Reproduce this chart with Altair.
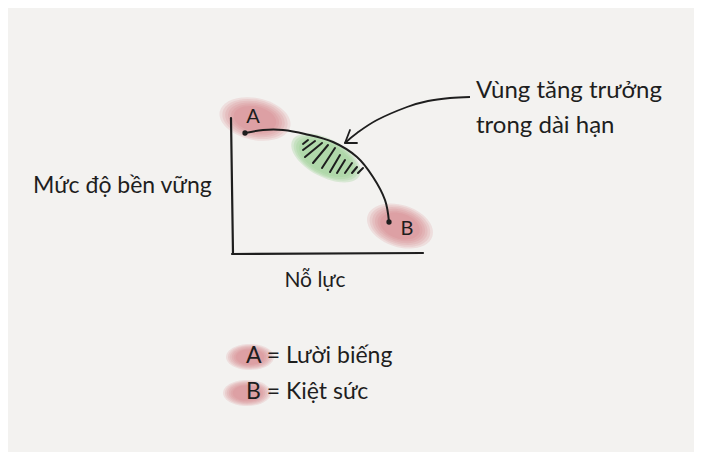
import altair as alt
import pandas as pd

# Diagram units: x = effort (Nỗ lực), y = sustainability (Mức độ bền vững); origin at axis corner
curve_x = [13, 31, 51, 73, 101, 125, 141, 153, 157]
curve_y = [121, 124, 124, 120, 112, 97, 77, 54, 32]

arrow_x = [238, 218, 196, 175, 145, 125, 113]
arrow_y = [157, 156, 153, 147, 134, 121, 111]
head_x1 = [113, 113]
head_y1 = [111, 111]
head_x2 = [118, 125]
head_y2 = [124, 111]

axis_x1 = [-1, 0]
axis_y1 = [136, 0]
axis_x2 = [1, 191]
axis_y2 = [0, 1]

hatch_x1 = [71, 71, 73, 81, 90, 98, 105, 113, 120, 126]
hatch_y1 = [110, 104, 97, 91, 86, 82, 81, 81, 81, 81]
hatch_x2 = [76, 83, 90, 96, 103, 108, 113, 120, 125, 131]
hatch_y2 = [114, 113, 111, 109, 106, 99, 94, 91, 87, 86]

end_names = ["A", "B"]
end_x = [13, 157]
end_y = [121, 32]
label_x = [21, 175]
label_y = [131, 19]

blob_names = ["A", "B", "growth", "legendA", "legendB"]
blob_x = [23, 168, 94, 18, 15]
blob_y = [135, 28, 96, -103, -139]

title_lines = ["Vùng tăng trưởng", "trong dài hạn"]
title_x = [244, 244]
title_y = [156, 121]

ylabel_text = ["Mức độ bền vững"]
ylabel_x = [-199]
ylabel_y = [61]

xlabel_text = ["Nỗ lực"]
xlabel_x = [83]
xlabel_y = [-33]

legend_text = ["A = Lười biếng", "B = Kiệt sức"]
legend_x = [14, 14]
legend_y = [-109, -145]

BG = "#f3f2f0"
INK = "#1e1e1e"
PINK = "#d6747a"
GREEN = "#9bd094"
FONT = "Lato"

xs = alt.Scale(domain=[-224, 462], nice=False, zero=False)
ys = alt.Scale(domain=[-198, 246], nice=False, zero=False)


def X(f):
    return alt.X(f, type="quantitative", scale=xs, axis=None)


def Y(f):
    return alt.Y(f, type="quantitative", scale=ys, axis=None)


def blob(idx, rx, ry, angle, color, steps):
    k = ry / rx
    path = f"M-1,0A1,{k:.3f} 0 1,1 1,0A1,{k:.3f} 0 1,1 -1,0Z"
    df = pd.DataFrame({"x": [blob_x[idx]], "y": [blob_y[idx]], "name": [blob_names[idx]]})
    layers = []
    for f, op in steps:
        layers.append(
            alt.Chart(df).mark_point(
                shape=path, filled=True, fill=color, opacity=op, strokeOpacity=0,
                size=(2 * rx * f) ** 2, angle=angle, strokeWidth=0,
            ).encode(x=X("x"), y=Y("y"))
        )
    return layers


soft = [(1.0, 0.16), (0.92, 0.16), (0.84, 0.16), (0.76, 0.16), (0.68, 0.16), (0.6, 0.16)]
crisp = [(1.0, 0.3), (0.93, 0.3), (0.86, 0.3), (0.78, 0.3)]

layers = []
layers += blob(0, 36, 21, 12, PINK, soft)
layers += blob(1, 34, 21, 18, PINK, soft)
layers += blob(2, 38, 19, 28, GREEN, crisp)
layers += blob(3, 24, 13, 0, PINK, soft)
layers += blob(4, 24, 13, 0, PINK, soft)

hatch_df = pd.DataFrame({"x": hatch_x1, "y": hatch_y1, "x2": hatch_x2, "y2": hatch_y2})
layers.append(
    alt.Chart(hatch_df).mark_rule(color=INK, strokeWidth=2, strokeCap="round").encode(
        x=X("x"), y=Y("y"), x2="x2:Q", y2="y2:Q"
    )
)

axis_df = pd.DataFrame({"x": axis_x1, "y": axis_y1, "x2": axis_x2, "y2": axis_y2})
layers.append(
    alt.Chart(axis_df).mark_rule(color=INK, strokeWidth=2.2, strokeCap="round").encode(
        x=X("x"), y=Y("y"), x2="x2:Q", y2="y2:Q"
    )
)

curve_df = pd.DataFrame({"x": curve_x, "y": curve_y, "o": list(range(len(curve_x)))})
layers.append(
    alt.Chart(curve_df).mark_line(color=INK, strokeWidth=2, interpolate="cardinal").encode(
        x=X("x"), y=Y("y"), order="o:Q"
    )
)

arrow_df = pd.DataFrame({"x": arrow_x, "y": arrow_y, "o": list(range(len(arrow_x)))})
layers.append(
    alt.Chart(arrow_df).mark_line(color=INK, strokeWidth=1.8, interpolate="cardinal").encode(
        x=X("x"), y=Y("y"), order="o:Q"
    )
)
head_df = pd.DataFrame({"x": head_x1, "y": head_y1, "x2": head_x2, "y2": head_y2})
layers.append(
    alt.Chart(head_df).mark_rule(color=INK, strokeWidth=1.8, strokeCap="round").encode(
        x=X("x"), y=Y("y"), x2="x2:Q", y2="y2:Q"
    )
)

end_df = pd.DataFrame({"x": end_x, "y": end_y, "name": end_names, "lx": label_x, "ly": label_y})
layers.append(
    alt.Chart(end_df).mark_point(filled=True, color=INK, size=28, opacity=1).encode(
        x=X("x"), y=Y("y")
    )
)
layers.append(
    alt.Chart(end_df).mark_text(font=FONT, fontSize=20, color=INK, align="center",
                                baseline="alphabetic").encode(
        x=X("lx"), y=Y("ly"), text="name:N"
    )
)


def text_layer(texts, txs, tys, size, align="left"):
    df = pd.DataFrame({"t": texts, "x": txs, "y": tys})
    return alt.Chart(df).mark_text(font=FONT, fontSize=size, color=INK, align=align,
                                   baseline="alphabetic").encode(
        x=X("x"), y=Y("y"), text="t:N"
    )


layers.append(text_layer(title_lines, title_x, title_y, 24))
layers.append(text_layer(ylabel_text, ylabel_x, ylabel_y, 23))
layers.append(text_layer(xlabel_text, xlabel_x, xlabel_y, 21, align="center"))
layers.append(text_layer(legend_text, legend_x, legend_y, 23))

chart = alt.layer(*layers).properties(
    width=686, height=444, background=BG,
    autosize=alt.AutoSizeParams(type="none"), padding=0,
    usermeta={"embedOptions": {"defaultStyle": "body{background:" + BG + ";}"}},
).configure_view(stroke=None)

chart.save("out.html", embed_options={"renderer": "svg", "actions": False})
